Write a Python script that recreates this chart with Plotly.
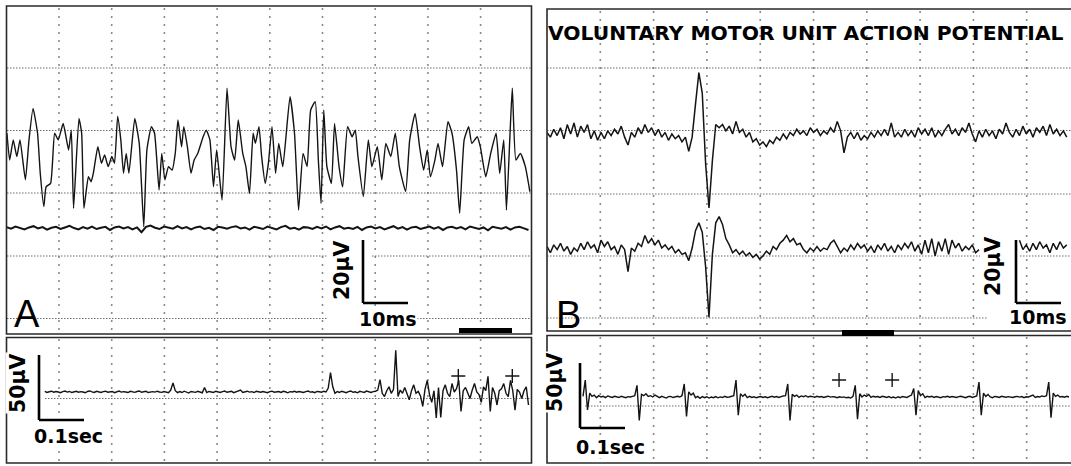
import plotly.graph_objects as go

W, H = 1071, 466

# ---------------- data ----------------
# Panel A, upper trace: interference pattern, turning points (ms, µV)
A1_T = [0.1, 0.7, 1.5, 2.3, 3.0, 4.2, 5.0, 5.9, 6.9, 7.5, 8.3, 8.8, 9.8, 10.7, 11.5, 12.6, 13.8, 14.4, 14.9,
        16.1, 16.7, 17.2, 18.2, 18.8, 19.3, 20.3, 21.1, 21.8, 22.6, 23.4, 24.0, 24.7, 25.4, 26.0, 26.6, 27.2,
        28.5, 29.5, 30.5, 31.2, 32.2, 32.9, 33.9, 34.5, 35.2, 36.0, 36.8, 37.5, 38.1, 38.9, 39.4, 40.2, 41.0,
        41.7, 42.5, 43.7, 44.4, 45.2, 46.0, 46.7, 47.9, 49.0, 49.9, 50.7, 51.5, 52.5, 53.2, 54.0, 54.8, 55.3,
        56.1, 56.7, 57.5, 58.2, 59.0, 59.8, 60.5, 61.4, 63.0, 64.0, 64.9, 65.9, 66.8, 67.6, 68.6, 69.3, 69.9,
        70.5, 71.2, 72.2, 72.9, 73.9, 74.7, 75.8, 76.8, 77.5, 78.1, 79.3, 80.4, 81.2, 82.4, 83.4, 84.3, 85.4,
        86.4, 87.3, 88.7, 89.6, 90.8, 91.8, 92.7, 93.5, 94.2, 95.2, 95.9, 96.9, 98.1, 99.0, 100.0, 100.7,
        101.7, 102.7, 103.4, 104.6, 105.3, 106.5, 107.6, 108.8, 109.6, 110.5, 111.1, 111.9, 112.4, 113.2,
        114.2, 115.3, 116.3]
A1_V = [6.9, -1.6, 4.8, -0.5, 4.8, -7.9, 4.8, 14.8, 6.9, -5.8, -16.4, -10.1, -9.0, 6.9, 4.8, 10.0, 1.6, 7.9, -16.9,
        11.6, 6.9, -16.9, -6.9, -8.5, -5.8, 2.6, -2.6, 0.0, -3.7, -0.5, -2.6, 12.2, 4.8, -5.8, 0.5, -5.8,
        11.6, 3.7, -22.8, 1.6, 9.0, 6.9, -11.1, 0.5, -7.9, -3.7, -4.8, 0.5, 11.1, 2.6, 9.0, 2.6, -5.8,
        -1.6, 0.5, 5.8, 7.9, 4.8, -10.1, 1.6, -14.3, 21.2, 2.6, -1.6, 11.1, 0.5, -3.7, -12.2, 6.9, 3.7,
        9.0, -0.5, -9.0, -2.6, 9.0, -5.8, 3.7, -3.7, 18.5, 6.9, -17.5, 0.5, -3.7, 14.3, 16.9, -1.6, -15.4,
        14.3, -3.7, -9.0, 10.0, -3.7, -10.1, 9.0, 5.8, 7.9, -0.5, -13.2, 4.8, -3.7, 2.6, -7.9, 3.7, -0.5,
        6.9, -3.7, -11.6, 4.8, 13.2, 2.6, -4.8, 1.6, -6.9, -1.6, 3.7, -3.7, 10.6, 6.9, -4.8, -18.5,
        4.8, 9.0, 3.7, 5.8, 2.6, -6.9, 0.5, 6.9, -5.8, 4.8, -17.5, 6.9, 21.2, -1.6,
        0.5, -3.7, -11.6]

# Panel A, lower trace (quiet channel), sampled every 1 ms (µV)
A2_DT = 1.0
A2_V = [0.3, -0.2, 0.5, 0.1, -0.4, 0.2, 0.6, -0.1, 0.3, -0.5, 0.1, 0.4, -0.3, 0.2, 0.7, 0.0, -0.4, 0.3, -0.2, 0.5,
        -0.3, 0.1, 0.4, -0.6, 0.2, 0.5, -0.1, 0.3, -0.4, 0.2, -1.3, 0.4, 0.8, 0.1, -0.3, 0.5, 0.2, -0.2, 0.6, -0.1,
        0.3, -0.4, 0.2, 0.5, -0.3, 0.1, -0.6, 0.4, 0.2, -0.2, 0.3, 0.6, -0.1, 0.2, -0.5, 0.4, 0.1, -0.3, 0.5, 0.0,
        -0.4, 0.3, 0.7, -0.2, 0.1, -0.5, 0.3, 0.2, -0.3, 0.4, -0.1, 0.5, -0.4, 0.2, 0.6, -0.2, 0.1, -0.3, 0.4, -0.6,
        0.2, 0.5, -0.1, 0.3, -0.4, 0.1, 0.6, -0.2, 0.3, -0.5, 0.2, 0.4, -0.3, 0.1, 0.5, -0.2, 0.3, -0.6, 0.2, 0.4,
        -0.1, 0.3, -0.4, 0.5, 0.1, -0.3, 0.2, -0.7, 0.4, 0.1, -0.2, 0.3, -0.5, 0.2, 0.4, -0.1, -0.6]

# Panel B, two channels with a voluntary motor unit potential, sampled every 0.75 ms (µV)
B_DT = 0.75
B1_V = [0.5, -1.0, 1.5, -0.5, 2.0, -1.5, 3.0, 0.0, 3.5, -1.0, 2.5, 0.5, 3.0, -1.5, 1.0, -2.0, 0.5, -1.5, 1.0, -0.5,
        1.5, 0.0, 2.5, -1.0, -3.5, 0.5, -1.0, 2.0, 0.0, 3.0, 0.5, 2.0, -0.5, 1.5, -1.0, 0.5, -2.0, 0.0, -1.5, -0.5,
        -2.5, -1.0, -5.5, -1.0, 9.5, 19.5, 13.0, -9.5, -23.5, -8.5, 3.0, 2.0, 3.0, 1.0, 2.5, 0.0, 4.0, 0.5, 1.5, -1.0,
        0.5, -2.5, -1.5, -3.5, -2.5, -4.0, -2.0, -3.0, -1.0, -2.0, 0.0, -1.5, 0.5, -0.5, 1.5, 0.0, 1.0, -0.5, 2.0, 0.5,
        1.5, -0.5, 1.0, 0.0, 2.0, 0.5, 4.0, 1.0, -6.0, -1.0, 0.5, -1.5, 0.5, -2.0, -0.5, -1.5, 0.5, -1.0, 1.0, -0.5,
        1.5, -0.5, 3.5, -1.0, 0.5, -1.0, 1.5, -0.5, 1.0, -1.0, 2.0, 0.0, 1.5, -0.5, 2.0, -1.0, 1.0, -0.5, 1.5, 3.0,
        0.0, 1.5, -0.5, 2.0, 0.5, 3.5, 0.0, -2.5, 1.0, -1.0, 1.5, -0.5, 1.0, -1.5, 1.5, 0.0, 3.5, 0.5, -1.0, 1.5,
        -0.5, 2.5, 0.0, 1.5, -1.0, 2.0, 0.5, 2.5, -0.5, 3.0, 0.0, 1.5, -0.5, 1.0, -1.0]
B2_V = [0.5, -1.5, 1.0, -0.5, 1.5, -1.0, 0.5, -2.0, 0.0, -1.0, 1.5, -0.5, 2.0, 0.0, 1.0, -1.5, 2.5, 0.5, 2.0, -0.5,
        0.5, -2.0, 1.0, -0.5, -7.5, 0.0, -1.0, 1.5, 0.5, 4.0, 1.5, 3.0, 1.0, 2.5, 0.0, 1.0, -0.5, 0.5, -1.5, -0.5,
        -2.0, -1.5, -4.0, 0.0, 5.5, 8.0, 5.0, -6.0, -22.0, -2.0, 8.0, 10.0, 7.5, 3.0, 1.0, -1.5, -0.5, -2.0, -1.0, -2.5,
        -1.5, -3.0, -2.0, -3.5, -2.5, -1.0, -2.0, 0.5, -0.5, 1.5, 2.5, 4.0, 2.0, 3.0, 1.0, 1.5, -0.5, -1.5, 0.0, -1.0,
        0.5, -1.0, 0.0, -0.5, 1.5, 2.5, 0.5, -1.5, 0.0, -1.0, 1.0, -0.5, 1.5, 0.0, 1.0, -1.0, 0.5, -1.5, 1.0, -0.5,
        1.5, -1.0, 0.5, -1.5, 1.0, -0.5, 1.5, 0.0, 2.0, -1.0, 1.0, -2.0, 2.5, -1.5, 3.0, -2.5, 2.0, -1.0, 3.0, -2.0,
        2.5, 0.0, 1.5, -1.0, 0.5, -0.5, 1.0, -1.5, -0.5, None, None, None, None, None, None, None, None, None, None,
        None, 2.5, -0.5, 1.0, -1.0, 1.5, -0.5, 2.0, 0.0, 1.0, -1.5, 1.5, -0.5, 2.0, 0.0, 1.0]

# Lower panels: slow sweeps, sampled every 5 ms (µV)
LOW_DT = 0.005
LA_V = [None] * 17 + [
    0.5, -0.3, 0.2, 0.6, -0.2, 0.4, 0.0, -0.5, 0.3, 0.7,
    -0.1, 0.4, -0.4, 0.2, 0.5, -0.2, 0.3, 0.0, -0.6, 0.4,
    0.8, 0.1, -0.3, 0.5, 0.2, -0.4, 0.3, 0.6, -0.2, 0.1,
    0.4, -0.5, 0.2, 0.7, -0.1, 0.3, 0.0, -0.4, 0.5, 0.2,
    -0.3, 0.4, 0.8, -0.2, 0.1, 0.5, -0.4, 0.2, 0.3, -0.1,
    0.6, 0.0, -0.3, 0.4, 0.2, -0.5, 1.5, 7.0, 1.0, -0.5,
    0.3, -0.4, 0.6, 0.1, -0.8, 0.4, 0.2, -0.3, 0.5, 0.0,
    -0.6, 3.5, -0.5, 0.4, 0.1, -0.3, 0.6, 0.2, -0.4, 0.3,
    0.7, -0.2, 0.1, 0.5, -0.5, 0.2, 0.4, 1.5, -0.3, 0.2,
    0.6, -0.1, 0.3, -0.4, 0.5, 0.2, -0.2, 0.4, 0.0, -0.5,
    0.3, 0.6, -0.2, 0.1, 0.4, -0.3, 0.5, 0.2, -0.6, 0.3,
    0.0, 0.5, -0.2, 0.4, 0.1, -0.4, 0.3, 0.7, -0.1, 0.2,
    -0.5, 0.4, 0.2, -0.2, 0.6, 0.0, 3.0, 15.0, 4.0, -1.0,
    0.4, -0.3, 0.6, 0.1, -0.5, 0.3, 0.8, -0.2, 0.2, -0.6,
    0.5, 0.1, -0.3, 0.7, 0.2, -0.4, 0.3, 0.6, 1.5, 9.5,
    -1.0, -3.5, 1.0, 4.0, -1.0, 2.0, 32.0, -3.5, 1.5, -1.0,
    3.5, -2.0, -6.0, 1.0, 5.5, -1.0, 0.5, -3.0, -11.0, 2.0,
    9.0, -2.0, -8.0, 1.0, -20.0, 3.5, -19.5, 1.0, 5.5, -1.0,
    -3.5, 6.5, 0.0, 2.5, 9.0, -15.0, 1.0, 3.5, -1.0, -5.0,
    1.5, 6.5, 0.0, -2.0, -8.0, 4.0, 1.0, 12.0, -15.0, 3.5,
    -1.0, -10.0, 1.0, 2.5, 6.5, -1.0, -3.5, 9.0, 1.0, -14.0,
    2.0, 0.0, -5.0, 1.0, 4.0, -10.0]
LB_V = [None] * 16 + [
    0.5, 13.0, -10.0, 3.0, 0.5, 1.5, -0.5, 1.0, 0.0, 0.5,
    -0.5, 0.8, 0.2, -0.3, 0.5, 0.0, -0.4, 0.6, 0.1, -0.5,
    0.3, 0.0, 0.5, 1.0, 9.0, -18.0, 2.0, 1.0, 2.5, 0.5,
    1.0, 0.0, 1.5, 0.2, -0.5, 0.5, 0.0, -0.8, 0.3, 0.5,
    -0.4, 0.2, 0.6, 0.0, 1.0, 10.0, -15.0, 4.0, 1.5, 3.0,
    -0.5, 0.5, -1.0, 0.3, -0.5, 0.2, -0.8, 0.0, -0.5, 0.3,
    -0.6, 0.1, -0.4, 0.5, -0.2, 0.0, 0.4, 1.0, 13.0, -14.0,
    2.5, 0.5, 2.0, -0.5, 0.5, -0.3, 0.2, -0.6, 0.0, 0.4,
    -0.3, 0.2, -0.5, 0.1, 0.6, -0.2, 0.3, -0.4, 0.5, 0.8,
    1.0, 10.0, -18.0, 2.0, 0.5, 1.5, -0.3, 0.8, 0.2, 1.0,
    0.0, 0.6, 0.3, -0.2, 0.5, 0.0, 0.4, -0.3, 0.2, 0.6,
    -0.1, 0.3, 0.0, -0.5, 0.2, -0.3, 0.1, -0.6, -0.2, -0.8,
    0.5, 9.0, -17.0, 2.5, 0.0, 1.5, 0.5, 2.0, -0.3, 0.6,
    0.0, 0.4, -0.3, 0.5, 0.2, -0.4, 0.3, -0.6, 0.0, -0.8,
    0.2, -0.5, 0.4, 0.0, -0.3, 0.6, 1.5, 6.5, -14.0, 5.0,
    1.0, 2.5, -0.5, 0.5, 0.0, 0.6, -0.3, 0.4, 0.2, -0.5,
    0.3, 0.0, 0.5, -0.2, 0.4, 0.1, -0.4, 0.3, 0.6, 0.0,
    -0.5, 0.2, 0.5, -0.3, 0.2, 0.8, 11.5, -14.0, 3.0, 0.5,
    2.0, 0.0, -0.5, 0.4, 0.2, -0.3, 0.5, 0.1, -0.2, 0.3,
    0.0, -0.4, 0.2, 0.5, -0.1, 0.3, -0.5, 0.2, 0.0, 0.6,
    1.5, -0.3, 0.4, 0.0, 0.8, 0.3, 1.0, 11.5, -16.0, 3.0,
    0.5, 1.5, 0.0, 0.4, -0.2, 0.5, 0.0]

# "+" markers on the slow sweeps (s, µV)
PLUS_A_T = [1.004, 1.124]
PLUS_A_V = [12.3, 12.3]
PLUS_B_T = [0.649, 0.767]
PLUS_B_V = [13.1, 13.1]

# channel offsets on the fast sweeps (µV)
A2_OFFSET = -23.2
B2_OFFSET = -36.2

# scale-bar sizes
FAST_T_BAR, FAST_V_BAR = 10, 20      # ms, µV
SLOW_T_BAR, SLOW_V_BAR = 0.1, 50     # s, µV

# ---------------- layout geometry (pixels) ----------------
# box (left, top, right, bottom), zero-volt row, px per x unit, px per µV
PANELS = {
    "A":  dict(box=(6.5, 6, 531.5, 334), y0=155, sx=4.5, sy=3.15, xa="x", ya="y"),
    "Al": dict(box=(6.5, 337.5, 531.5, 463), y0=392, sx=450, sy=1.3, xa="x2", ya="y2"),
    "B":  dict(box=(547, 9, 1071, 331), y0=134, sx=4.5, sy=3.15, xa="x3", ya="y3"),
    "Bl": dict(box=(547, 335.5, 1071, 463), y0=397, sx=450, sy=1.3, xa="x4", ya="y4"),
}


def xr(p):
    l, t, r, b = p["box"]
    return [0, (r - l) / p["sx"]]


def yr(p):
    l, t, r, b = p["box"]
    return [(p["y0"] - b) / p["sy"], (p["y0"] - t) / p["sy"]]


def to_data(p, xp, yp):
    l = p["box"][0]
    return (xp - l) / p["sx"], (p["y0"] - yp) / p["sy"]


def PX(x):
    return x / W


def PY(y):
    return 1 - y / H


fig = go.Figure()

INK = "#141414"


def add_line(panel, t, v, width, shape="linear"):
    p = PANELS[panel]
    line = dict(color=INK, width=width, shape=shape)
    if shape == "spline":
        line["smoothing"] = 0.45
    fig.add_trace(go.Scatter(x=t, y=v, mode="lines", line=line,
                             xaxis=p["xa"], yaxis=p["ya"], hoverinfo="skip", showlegend=False,
                             connectgaps=False))


def shift(vals, off):
    return [None if v is None else v + off for v in vals]


add_line("A", A1_T, A1_V, 1.4, shape="spline")
add_line("A", [i * A2_DT for i in range(len(A2_V))], shift(A2_V, A2_OFFSET), 2.0)
add_line("B", [i * B_DT for i in range(len(B1_V))], B1_V, 1.5)
add_line("B", [i * B_DT for i in range(len(B2_V))], shift(B2_V, B2_OFFSET), 1.5)
add_line("Al", [i * LOW_DT for i in range(len(LA_V))], LA_V, 1.4)
add_line("Bl", [i * LOW_DT for i in range(len(LB_V))], LB_V, 1.4)

for panel, tt, vv in (("Al", PLUS_A_T, PLUS_A_V), ("Bl", PLUS_B_T, PLUS_B_V)):
    p = PANELS[panel]
    fig.add_trace(go.Scatter(x=tt, y=vv, mode="markers",
                             marker=dict(symbol="cross-thin", size=10, line=dict(color=INK, width=1.4)),
                             xaxis=p["xa"], yaxis=p["ya"], hoverinfo="skip", showlegend=False))

shapes = []
GRID_V = "#8a8a8a"
GRID_H = "#6e6e6e"


def vgrid(xs, top, bottom):
    for x in xs:
        shapes.append(dict(type="line", xref="paper", yref="paper", x0=PX(x), x1=PX(x), y0=PY(top), y1=PY(bottom),
                           line=dict(color=GRID_V, width=1.6, dash="2px,6px"), layer="below"))


def hgrid(y, segs):
    for a, b in segs:
        shapes.append(dict(type="line", xref="paper", yref="paper", x0=PX(a), x1=PX(b), y0=PY(y), y1=PY(y),
                           line=dict(color=GRID_H, width=1.1, dash="1.5px,1.5px"), layer="below"))


A_VX = [59 + 52.7 * k for k in range(9)]
B_VX = [600.3 + 53.3 * k for k in range(9)]
vgrid(A_VX, 8, 332)
vgrid(A_VX, 339, 461)
vgrid(B_VX, 11, 329)
vgrid(B_VX, 337, 461)

hgrid(68, [(7, 531)])
hgrid(130.5, [(7, 531)])
hgrid(193, [(7, 531)])
hgrid(256, [(7, 327), (372, 531)])
hgrid(318.5, [(7, 327), (417, 531)])
hgrid(398.5, [(45, 531)])
hgrid(68, [(547, 1071)])
hgrid(130.5, [(547, 1071)])
hgrid(194, [(547, 1071)])
hgrid(256, [(547, 980), (1020, 1071)])
hgrid(318, [(547, 988)])
hgrid(406, [(585, 1071)])

# panel frames
for name, p in PANELS.items():
    l, t, r, b = p["box"]
    shapes.append(dict(type="rect", xref="paper", yref="paper", x0=PX(l), x1=PX(r + (12 if r >= W else 0)),
                       y0=PY(b), y1=PY(t), line=dict(color="#2a2a2a", width=1.6), layer="above"))

# sweep-window bars
for (x0, y0, x1, y1) in ((459, 328, 512, 333), (842, 330, 894, 336)):
    shapes.append(dict(type="rect", xref="paper", yref="paper", x0=PX(x0), x1=PX(x1), y0=PY(y1), y1=PY(y0),
                       fillcolor="#000", line=dict(width=0), layer="above"))


# calibration bars (drawn in data units)
def cal_bar(panel, corner_px, tlen, vlen):
    p = PANELS[panel]
    cx, cy = to_data(p, *corner_px)
    for (xa, ya, xb, yb) in ((cx, cy, cx, cy + vlen), (cx, cy, cx + tlen, cy)):
        shapes.append(dict(type="line", xref=p["xa"], yref=p["ya"], x0=xa, y0=ya, x1=xb, y1=yb,
                           line=dict(color="#000", width=2.6), layer="above"))


cal_bar("A", (363, 303), FAST_T_BAR, FAST_V_BAR)
cal_bar("B", (1016, 303), FAST_T_BAR, FAST_V_BAR)
cal_bar("Al", (39, 420), SLOW_T_BAR, SLOW_V_BAR)
cal_bar("Bl", (580, 428), SLOW_T_BAR, SLOW_V_BAR)

ann = []
BOLD = dict(family="DejaVu Sans", size=19, color="#000", weight="bold")
BOLD_R = dict(family="DejaVu Sans", size=20.5, color="#000", weight="bold")


def label(text, x, y, font, angle=0, xanchor="center", bg="rgba(0,0,0,0)"):
    ann.append(dict(text=text, x=PX(x), y=PY(y), xref="paper", yref="paper", showarrow=False,
                    xanchor=xanchor, yanchor="middle", textangle=angle, font=font, bgcolor=bg, borderpad=0))


label("20µV", 342, 270, BOLD_R, angle=-90, bg="white")
label("10ms", 388, 319, BOLD, bg="white")
label("20µV", 993, 266, BOLD_R, angle=-90, bg="white")
label("10ms", 1038, 317, BOLD, bg="white")
label("50µV", 18, 383, BOLD_R, angle=-90, bg="white")
label("0.1sec", 68.5, 436, BOLD, bg="white")
label("50µV", 555, 382, BOLD_R, angle=-90, bg="white")
label("0.1sec", 610, 447, BOLD, bg="white")
BIG = dict(family="Liberation Sans", size=38, color="#000")
label("A", 27, 314, BIG)
label("B", 568, 315, BIG)
label("VOLUNTARY MOTOR UNIT ACTION POTENTIAL", 547, 33,
      dict(family="DejaVu Sans", size=20.3, color="#000", weight="bold"), xanchor="left")


def axis(p, which):
    l, t, r, b = p["box"]
    d = dict(visible=False, fixedrange=True, showgrid=False, zeroline=False)
    if which == "x":
        d.update(domain=[PX(l), min(1.0, PX(r))], range=xr(p), anchor=p["ya"])
    else:
        d.update(domain=[PY(b), PY(t)], range=yr(p), anchor=p["xa"])
    return d


layout = dict(width=W, height=H, margin=dict(l=0, r=0, t=0, b=0), paper_bgcolor="white",
              plot_bgcolor="rgba(0,0,0,0)", shapes=shapes, annotations=ann, showlegend=False)
for i, name in enumerate(["A", "Al", "B", "Bl"]):
    suf = "" if i == 0 else str(i + 1)
    layout["xaxis" + suf] = axis(PANELS[name], "x")
    layout["yaxis" + suf] = axis(PANELS[name], "y")

fig.update_layout(**layout)
fig.write_html("out.html", config={"displayModeBar": False})
